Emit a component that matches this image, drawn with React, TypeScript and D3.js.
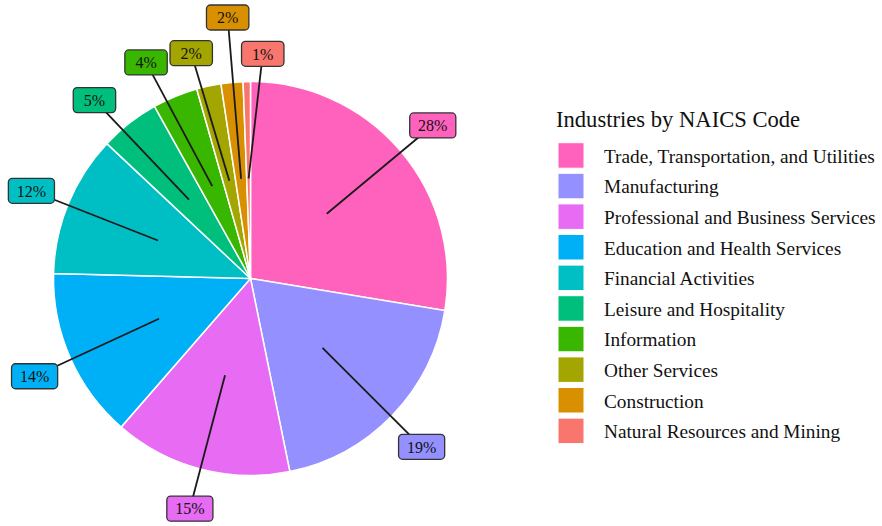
import React from "react";
import * as d3 from "d3";

const categories = [
  "Trade, Transportation, and Utilities",
  "Manufacturing",
  "Professional and Business Services",
  "Education and Health Services",
  "Financial Activities",
  "Leisure and Hospitality",
  "Information",
  "Other Services",
  "Construction",
  "Natural Resources and Mining",
];
const shares = [27.6, 19.2, 14.6, 14.0, 11.6, 4.9, 3.7, 2.0, 1.8, 0.6];
const colors = [
  "#FF62BC", "#9590FF", "#E76BF3", "#00B0F6", "#00BFC4",
  "#00BF7D", "#39B600", "#A3A500", "#D89000", "#F8766D",
];
const legendTitle = "Industries by NAICS Code";

// label layout (repel-like nudges): angular offset (deg) and distance (px) from centre
const labelAngleNudge = [0.3, 0.6, 0, -0.6, -0.5, -3.2, -3.3, -2.5, 0.4, 4.2];
const labelDist = [238, 240, 238, 237, 236, 237, 240, 233, 262, 225];

const W = 882, H = 526;
const cx = 250.5, cy = 278.5, R = 197;
const FONT = "'Liberation Serif', 'DejaVu Serif', serif";

export default function App() {
  const data = categories.map((c, i) => ({ name: c, value: shares[i], color: colors[i], i }));
  const pie = d3.pie<any>().sort(null).value((d) => d.value).startAngle(0).endAngle(2 * Math.PI);
  const arcs = pie(data);
  const arc = d3.arc<any>().innerRadius(0).outerRadius(R);
  const total = d3.sum(shares);

  const polar = (ang: number, r: number) => [cx + r * Math.sin(ang), cy - r * Math.cos(ang)];

  const legendY = d3.scaleLinear().domain([0, 1]).range([142.7, 142.7 + 30.6]);

  return (
    <svg width={W} height={H} style={{ position: "absolute", left: 0, top: 0, background: "#fff" }}>
      <g transform={`translate(${cx},${cy})`}>
        {arcs.map((a, k) => (
          <path key={k} d={arc(a) as string} fill={a.data.color} stroke="#fff" strokeWidth={1.5} />
        ))}
      </g>
      {arcs.map((a, k) => {
        const mid = (a.startAngle + a.endAngle) / 2;
        const [x1, y1] = polar(mid, 100);
        const la = mid + (labelAngleNudge[k] * Math.PI) / 180;
        const [lx, ly] = polar(la, labelDist[k]);
        return <line key={k} x1={x1} y1={y1} x2={lx} y2={ly} stroke="#1a1a1a" strokeWidth={1.8} />;
      })}
      {arcs.map((a, k) => {
        const mid = (a.startAngle + a.endAngle) / 2;
        const la = mid + (labelAngleNudge[k] * Math.PI) / 180;
        const [lx, ly] = polar(la, labelDist[k]);
        const txt = `${Math.round((a.data.value / total) * 100)}%`;
        const bw = 35 + 3.7 * txt.length;
        const bh = 25;
        return (
          <g key={k}>
            <rect x={lx - bw / 2} y={ly - bh / 2} width={bw} height={bh} rx={4} fill={a.data.color} stroke="#333" strokeWidth={1.3} />
            <text x={lx} y={ly + 5.8} textAnchor="middle" fontFamily={FONT} fontSize={16} fill="#111">{txt}</text>
          </g>
        );
      })}
      <text x={556} y={127} fontFamily={FONT} fontSize={22.6} fill="#111">{legendTitle}</text>
      {data.map((d, i) => (
        <g key={i}>
          <rect x={558} y={legendY(i)} width={26} height={25.5} fill={d.color} stroke="#fff" strokeWidth={1} />
          <text x={604} y={legendY(i) + 20} fontFamily={FONT} fontSize={19.3} fill="#111">{d.name}</text>
        </g>
      ))}
    </svg>
  );
}
